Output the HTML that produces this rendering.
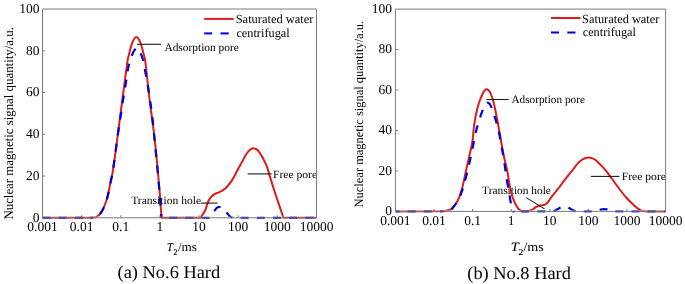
<!DOCTYPE html>
<html><head><meta charset="utf-8"><style>
html,body{margin:0;padding:0;background:#fff;width:685px;height:284px;overflow:hidden}
svg{display:block;will-change:transform}
text{font-family:'Liberation Serif',serif;fill:#000;text-rendering:geometricPrecision}
</style></head><body>
<svg width="685" height="284" viewBox="0 0 685 284">
<text x="39.5" y="221.60" text-anchor="end" font-size="13.5">0</text>
<line x1="42.5" y1="176.04" x2="45.0" y2="176.04" stroke="#7a7a7a" stroke-width="1"/>
<text x="39.5" y="179.84" text-anchor="end" font-size="13.5">20</text>
<line x1="42.5" y1="134.28" x2="45.0" y2="134.28" stroke="#7a7a7a" stroke-width="1"/>
<text x="39.5" y="138.08" text-anchor="end" font-size="13.5">40</text>
<line x1="42.5" y1="92.52" x2="45.0" y2="92.52" stroke="#7a7a7a" stroke-width="1"/>
<text x="39.5" y="96.32" text-anchor="end" font-size="13.5">60</text>
<line x1="42.5" y1="50.76" x2="45.0" y2="50.76" stroke="#7a7a7a" stroke-width="1"/>
<text x="39.5" y="54.56" text-anchor="end" font-size="13.5">80</text>
<text x="39.5" y="12.80" text-anchor="end" font-size="13.5">100</text>
<text x="42.50" y="231.10" text-anchor="middle" font-size="13.5">0.001</text>
<line x1="81.64" y1="217.8" x2="81.64" y2="215.3" stroke="#7a7a7a" stroke-width="1"/>
<text x="81.64" y="231.10" text-anchor="middle" font-size="13.5">0.01</text>
<line x1="120.79" y1="217.8" x2="120.79" y2="215.3" stroke="#7a7a7a" stroke-width="1"/>
<text x="120.79" y="231.10" text-anchor="middle" font-size="13.5">0.1</text>
<line x1="159.93" y1="217.8" x2="159.93" y2="215.3" stroke="#7a7a7a" stroke-width="1"/>
<text x="159.93" y="231.10" text-anchor="middle" font-size="13.5">1</text>
<line x1="199.07" y1="217.8" x2="199.07" y2="215.3" stroke="#7a7a7a" stroke-width="1"/>
<text x="199.07" y="231.10" text-anchor="middle" font-size="13.5">10</text>
<line x1="238.21" y1="217.8" x2="238.21" y2="215.3" stroke="#7a7a7a" stroke-width="1"/>
<text x="238.21" y="231.10" text-anchor="middle" font-size="13.5">100</text>
<line x1="277.36" y1="217.8" x2="277.36" y2="215.3" stroke="#7a7a7a" stroke-width="1"/>
<text x="277.36" y="231.10" text-anchor="middle" font-size="13.5">1000</text>
<text x="316.50" y="231.10" text-anchor="middle" font-size="13.5">10000</text>
<text x="391.9" y="215.20" text-anchor="end" font-size="13.5">0</text>
<line x1="395.4" y1="170.94" x2="397.9" y2="170.94" stroke="#7a7a7a" stroke-width="1"/>
<text x="391.9" y="174.74" text-anchor="end" font-size="13.5">20</text>
<line x1="395.4" y1="130.48" x2="397.9" y2="130.48" stroke="#7a7a7a" stroke-width="1"/>
<text x="391.9" y="134.28" text-anchor="end" font-size="13.5">40</text>
<line x1="395.4" y1="90.02" x2="397.9" y2="90.02" stroke="#7a7a7a" stroke-width="1"/>
<text x="391.9" y="93.82" text-anchor="end" font-size="13.5">60</text>
<line x1="395.4" y1="49.56" x2="397.9" y2="49.56" stroke="#7a7a7a" stroke-width="1"/>
<text x="391.9" y="53.36" text-anchor="end" font-size="13.5">80</text>
<text x="391.9" y="12.90" text-anchor="end" font-size="13.5">100</text>
<text x="395.40" y="225.10" text-anchor="middle" font-size="13.5">0.001</text>
<line x1="434.00" y1="211.4" x2="434.00" y2="208.9" stroke="#7a7a7a" stroke-width="1"/>
<text x="434.00" y="225.10" text-anchor="middle" font-size="13.5">0.01</text>
<line x1="472.60" y1="211.4" x2="472.60" y2="208.9" stroke="#7a7a7a" stroke-width="1"/>
<text x="472.60" y="225.10" text-anchor="middle" font-size="13.5">0.1</text>
<line x1="511.20" y1="211.4" x2="511.20" y2="208.9" stroke="#7a7a7a" stroke-width="1"/>
<text x="511.20" y="225.10" text-anchor="middle" font-size="13.5">1</text>
<line x1="549.80" y1="211.4" x2="549.80" y2="208.9" stroke="#7a7a7a" stroke-width="1"/>
<text x="549.80" y="225.10" text-anchor="middle" font-size="13.5">10</text>
<line x1="588.40" y1="211.4" x2="588.40" y2="208.9" stroke="#7a7a7a" stroke-width="1"/>
<text x="588.40" y="225.10" text-anchor="middle" font-size="13.5">100</text>
<line x1="627.00" y1="211.4" x2="627.00" y2="208.9" stroke="#7a7a7a" stroke-width="1"/>
<text x="627.00" y="225.10" text-anchor="middle" font-size="13.5">1000</text>
<text x="665.60" y="225.10" text-anchor="middle" font-size="13.5">10000</text>
<line x1="204.2" y1="18.9" x2="233.7" y2="18.9" stroke="#dc1c1c" stroke-width="2"/>
<line x1="204.2" y1="33.4" x2="212.2" y2="33.4" stroke="#0000d0" stroke-width="2"/>
<line x1="220.5" y1="33.4" x2="228.7" y2="33.4" stroke="#0000d0" stroke-width="2"/>
<line x1="551.0" y1="18.0" x2="580.5" y2="18.0" stroke="#dc1c1c" stroke-width="2"/>
<line x1="551.0" y1="32.5" x2="559.0" y2="32.5" stroke="#0000d0" stroke-width="2"/>
<line x1="567.3" y1="32.5" x2="575.5" y2="32.5" stroke="#0000d0" stroke-width="2"/>
<text x="235.69" y="23.00" font-size="12.3"  textLength="77.74" lengthAdjust="spacingAndGlyphs">Saturated water</text>
<text x="236.40" y="36.90" font-size="12.3"  textLength="53.27" lengthAdjust="spacingAndGlyphs">centrifugal</text>
<text x="164.40" y="51.10" font-size="11.25"  textLength="74.44" lengthAdjust="spacingAndGlyphs">Adsorption pore</text>
<text x="131.20" y="204.40" font-size="11.25"  textLength="69.93" lengthAdjust="spacingAndGlyphs">Transition hole</text>
<text x="272.97" y="178.20" font-size="11.25"  textLength="44.15" lengthAdjust="spacingAndGlyphs">Free pore</text>
<text x="117.58" y="278.40" font-size="18"  textLength="102.60" lengthAdjust="spacingAndGlyphs">(a) No.6 Hard</text>
<text x="582.09" y="22.50" font-size="12.3"  textLength="77.33" lengthAdjust="spacingAndGlyphs">Saturated water</text>
<text x="582.70" y="36.40" font-size="12.3"  textLength="53.27" lengthAdjust="spacingAndGlyphs">centrifugal</text>
<text x="511.40" y="102.70" font-size="11.25"  textLength="73.54" lengthAdjust="spacingAndGlyphs">Adsorption pore</text>
<text x="482.10" y="193.70" font-size="11.25"  textLength="68.83" lengthAdjust="spacingAndGlyphs">Transition hole</text>
<text x="621.66" y="179.60" font-size="11.25"  textLength="44.36" lengthAdjust="spacingAndGlyphs">Free pore</text>
<text x="467.28" y="278.50" font-size="18"  textLength="103.62" lengthAdjust="spacingAndGlyphs">(b) No.8 Hard</text>
<text x="166.90" y="251.00" font-size="12" font-style="italic" stroke="#000" stroke-width="0.15" textLength="5.94" lengthAdjust="spacingAndGlyphs">T</text>
<text x="173.60" y="254.50" font-size="8.7" stroke="#000" stroke-width="0.15" textLength="3.80" lengthAdjust="spacingAndGlyphs">2</text>
<text x="177.90" y="251.00" font-size="12.5"  textLength="19.07" lengthAdjust="spacingAndGlyphs">/ms</text>
<text x="510.69" y="250.70" font-size="13" font-style="italic" stroke="#000" stroke-width="0.15" textLength="8.06" lengthAdjust="spacingAndGlyphs">T</text>
<text x="518.40" y="255.00" font-size="9" stroke="#000" stroke-width="0.15" textLength="4.84" lengthAdjust="spacingAndGlyphs">2</text>
<text x="523.40" y="250.80" font-size="13"  textLength="20.38" lengthAdjust="spacingAndGlyphs">/ms</text>
<text transform="translate(12.70,219.59) rotate(-90)" font-size="13" textLength="192.46" lengthAdjust="spacingAndGlyphs">Nuclear magnetic signal quantity/a.u.</text>
<text transform="translate(363.30,207.39) rotate(-90)" font-size="12.6" textLength="186.48" lengthAdjust="spacingAndGlyphs">Nuclear magnetic signal quantity/a.u.</text>
<defs><clipPath id="k1m"><rect x="42.5" y="9.0" width="274.0" height="207.8"/></clipPath><clipPath id="k1b"><rect x="42.5" y="216.8" width="274.0" height="2.5"/></clipPath><clipPath id="k2m"><rect x="395.4" y="9.1" width="270.20000000000005" height="201.3"/></clipPath><clipPath id="k2b"><rect x="395.4" y="210.4" width="270.20000000000005" height="2.5"/></clipPath></defs>
<line x1="42.5" y1="217.8" x2="316.5" y2="217.8" stroke="#7a7a7a" stroke-width="1"/>
<line x1="395.4" y1="211.4" x2="665.6" y2="211.4" stroke="#7a7a7a" stroke-width="1"/>
<g clip-path="url(#k1m)"><path d="M42.50,217.80 L90.00,217.80 L90.00,217.80 C90.67,217.75 92.83,217.72 94.00,217.50 C95.17,217.28 95.90,217.23 97.00,216.50 C98.10,215.77 99.43,214.68 100.60,213.10 C101.77,211.52 102.83,209.78 104.00,207.00 C105.17,204.22 106.57,200.23 107.60,196.40 C108.63,192.57 109.30,188.40 110.20,184.00 C111.10,179.60 111.63,179.00 113.00,170.00 C114.37,161.00 116.85,141.67 118.40,130.00 C119.95,118.33 120.82,111.27 122.30,100.00 C123.78,88.73 126.18,69.98 127.30,62.40 C128.42,54.82 128.33,57.32 129.00,54.50 C129.67,51.68 130.55,47.93 131.30,45.50 C132.05,43.07 132.67,41.30 133.50,39.90 C134.33,38.50 135.35,37.10 136.30,37.10 C137.25,37.10 138.35,38.50 139.20,39.90 C140.05,41.30 140.65,43.07 141.40,45.50 C142.15,47.93 143.03,51.68 143.70,54.50 C144.37,57.32 144.42,54.82 145.40,62.40 C146.38,69.98 148.57,91.23 149.60,100.00 C150.63,108.77 150.93,110.00 151.60,115.00 C152.27,120.00 152.98,125.00 153.60,130.00 C154.22,135.00 154.77,140.00 155.30,145.00 C155.83,150.00 156.32,155.00 156.80,160.00 C157.28,165.00 157.75,170.00 158.20,175.00 C158.65,180.00 159.10,185.00 159.50,190.00 C159.90,195.00 160.25,200.37 160.60,205.00 C160.95,209.63 161.43,215.67 161.60,217.80 L200.20,217.80 L200.20,217.80 C200.57,217.33 201.58,216.22 202.40,215.00 C203.22,213.78 204.33,212.17 205.10,210.50 C205.87,208.83 206.47,206.53 207.00,205.00 C207.53,203.47 207.70,202.52 208.30,201.30 C208.90,200.08 209.75,198.77 210.60,197.70 C211.45,196.63 212.50,195.62 213.40,194.90 C214.30,194.18 215.20,193.78 216.00,193.40 C216.80,193.02 217.22,193.03 218.20,192.60 C219.18,192.17 220.67,191.52 221.90,190.80 C223.13,190.08 224.58,189.17 225.60,188.30 C226.62,187.43 227.08,186.72 228.00,185.60 C228.92,184.48 230.07,183.10 231.10,181.60 C232.13,180.10 233.17,178.45 234.20,176.60 C235.23,174.75 236.28,172.45 237.30,170.50 C238.32,168.55 239.35,166.62 240.30,164.90 C241.25,163.18 242.07,161.88 243.00,160.20 C243.93,158.52 244.92,156.35 245.90,154.80 C246.88,153.25 248.00,151.88 248.90,150.90 C249.80,149.92 250.40,149.32 251.30,148.90 C252.20,148.48 253.30,148.23 254.30,148.40 C255.30,148.57 256.40,149.17 257.30,149.90 C258.20,150.63 258.88,151.65 259.70,152.80 C260.52,153.95 261.37,155.32 262.20,156.80 C263.03,158.28 263.88,159.98 264.70,161.70 C265.52,163.42 265.98,163.82 267.10,167.10 C268.22,170.38 269.90,176.58 271.40,181.40 C272.90,186.22 274.10,189.93 276.10,196.00 C278.10,202.07 282.18,214.17 283.40,217.80 L316.50,217.80" fill="none" stroke="#dc1c1c" stroke-width="2" stroke-linejoin="round"/><path d="M42.50,217.80 L90.00,217.80" fill="none" stroke="#0000d0" stroke-width="2.2" stroke-linejoin="round" stroke-dasharray="8.0,8.2" stroke-dashoffset="0.00"/><path d="M90.00,217.80 C90.67,217.75 92.83,217.72 94.00,217.50 C95.17,217.28 95.90,217.23 97.00,216.50 C98.10,215.77 99.43,214.68 100.60,213.10 C101.77,211.52 102.83,209.78 104.00,207.00 C105.17,204.22 106.57,200.23 107.60,196.40 C108.63,192.57 109.30,188.40 110.20,184.00 C111.10,179.60 111.62,179.00 113.00,170.00 C114.38,161.00 117.20,139.17 118.50,130.00 C119.80,120.83 120.05,120.00 120.80,115.00 C121.55,110.00 122.33,104.17 123.00,100.00 C123.67,95.83 124.25,93.33 124.80,90.00 C125.35,86.67 125.80,83.33 126.30,80.00 C126.80,76.67 127.28,72.83 127.80,70.00 C128.32,67.17 128.72,65.42 129.40,63.00 C130.08,60.58 131.20,57.42 131.90,55.50 C132.60,53.58 133.02,52.55 133.60,51.50 C134.18,50.45 134.78,49.73 135.40,49.20 C136.02,48.67 136.70,48.23 137.30,48.30 C137.90,48.37 138.48,48.87 139.00,49.60 C139.52,50.33 139.82,51.25 140.40,52.70 C140.98,54.15 141.92,56.42 142.50,58.30 C143.08,60.18 143.48,62.00 143.90,64.00 C144.32,66.00 144.57,67.97 145.00,70.30 C145.43,72.63 145.97,75.05 146.50,78.00 C147.03,80.95 147.62,84.33 148.20,88.00 C148.78,91.67 149.42,96.00 150.00,100.00 C150.58,104.00 151.15,107.50 151.70,112.00 C152.25,116.50 152.82,122.33 153.30,127.00 C153.78,131.67 154.05,134.50 154.60,140.00 C155.15,145.50 155.82,151.67 156.60,160.00 C157.38,168.33 158.65,182.50 159.30,190.00 C159.95,197.50 160.15,200.37 160.50,205.00 C160.85,209.63 161.25,215.67 161.40,217.80" fill="none" stroke="#0000d0" stroke-width="2.2" stroke-linejoin="round" stroke-dasharray="8.0,8.2" stroke-dashoffset="5.15"/><path d="M161.40,217.80 L209.00,217.80 L209.00,217.80 C209.42,217.50 210.62,217.12 211.50,216.00 C212.38,214.88 213.38,212.50 214.30,211.10 C215.22,209.70 216.05,208.28 217.00,207.60 C217.95,206.92 219.08,206.93 220.00,207.00 C220.92,207.07 221.67,207.42 222.50,208.00 C223.33,208.58 224.18,209.57 225.00,210.50 C225.82,211.43 226.57,212.60 227.40,213.60 C228.23,214.60 229.15,215.80 230.00,216.50 C230.85,217.20 232.08,217.58 232.50,217.80 L316.50,217.80" fill="none" stroke="#0000d0" stroke-width="2.2" stroke-linejoin="round" stroke-dasharray="8.0,8.2" stroke-dashoffset="8.44"/></g>
<g clip-path="url(#k1b)"><path d="M42.50,217.80 L90.00,217.80 L90.00,217.80 C90.67,217.75 92.83,217.72 94.00,217.50 C95.17,217.28 95.90,217.23 97.00,216.50 C98.10,215.77 99.43,214.68 100.60,213.10 C101.77,211.52 102.83,209.78 104.00,207.00 C105.17,204.22 106.57,200.23 107.60,196.40 C108.63,192.57 109.30,188.40 110.20,184.00 C111.10,179.60 111.63,179.00 113.00,170.00 C114.37,161.00 116.85,141.67 118.40,130.00 C119.95,118.33 120.82,111.27 122.30,100.00 C123.78,88.73 126.18,69.98 127.30,62.40 C128.42,54.82 128.33,57.32 129.00,54.50 C129.67,51.68 130.55,47.93 131.30,45.50 C132.05,43.07 132.67,41.30 133.50,39.90 C134.33,38.50 135.35,37.10 136.30,37.10 C137.25,37.10 138.35,38.50 139.20,39.90 C140.05,41.30 140.65,43.07 141.40,45.50 C142.15,47.93 143.03,51.68 143.70,54.50 C144.37,57.32 144.42,54.82 145.40,62.40 C146.38,69.98 148.57,91.23 149.60,100.00 C150.63,108.77 150.93,110.00 151.60,115.00 C152.27,120.00 152.98,125.00 153.60,130.00 C154.22,135.00 154.77,140.00 155.30,145.00 C155.83,150.00 156.32,155.00 156.80,160.00 C157.28,165.00 157.75,170.00 158.20,175.00 C158.65,180.00 159.10,185.00 159.50,190.00 C159.90,195.00 160.25,200.37 160.60,205.00 C160.95,209.63 161.43,215.67 161.60,217.80 L200.20,217.80 L200.20,217.80 C200.57,217.33 201.58,216.22 202.40,215.00 C203.22,213.78 204.33,212.17 205.10,210.50 C205.87,208.83 206.47,206.53 207.00,205.00 C207.53,203.47 207.70,202.52 208.30,201.30 C208.90,200.08 209.75,198.77 210.60,197.70 C211.45,196.63 212.50,195.62 213.40,194.90 C214.30,194.18 215.20,193.78 216.00,193.40 C216.80,193.02 217.22,193.03 218.20,192.60 C219.18,192.17 220.67,191.52 221.90,190.80 C223.13,190.08 224.58,189.17 225.60,188.30 C226.62,187.43 227.08,186.72 228.00,185.60 C228.92,184.48 230.07,183.10 231.10,181.60 C232.13,180.10 233.17,178.45 234.20,176.60 C235.23,174.75 236.28,172.45 237.30,170.50 C238.32,168.55 239.35,166.62 240.30,164.90 C241.25,163.18 242.07,161.88 243.00,160.20 C243.93,158.52 244.92,156.35 245.90,154.80 C246.88,153.25 248.00,151.88 248.90,150.90 C249.80,149.92 250.40,149.32 251.30,148.90 C252.20,148.48 253.30,148.23 254.30,148.40 C255.30,148.57 256.40,149.17 257.30,149.90 C258.20,150.63 258.88,151.65 259.70,152.80 C260.52,153.95 261.37,155.32 262.20,156.80 C263.03,158.28 263.88,159.98 264.70,161.70 C265.52,163.42 265.98,163.82 267.10,167.10 C268.22,170.38 269.90,176.58 271.40,181.40 C272.90,186.22 274.10,189.93 276.10,196.00 C278.10,202.07 282.18,214.17 283.40,217.80 L316.50,217.80" fill="none" stroke="#b85a55" stroke-width="2" stroke-linejoin="round"/><path d="M42.50,217.80 L90.00,217.80" fill="none" stroke="#4a50a8" stroke-width="2.2" stroke-linejoin="round" stroke-dasharray="8.0,8.2" stroke-dashoffset="0.00"/><path d="M90.00,217.80 C90.67,217.75 92.83,217.72 94.00,217.50 C95.17,217.28 95.90,217.23 97.00,216.50 C98.10,215.77 99.43,214.68 100.60,213.10 C101.77,211.52 102.83,209.78 104.00,207.00 C105.17,204.22 106.57,200.23 107.60,196.40 C108.63,192.57 109.30,188.40 110.20,184.00 C111.10,179.60 111.62,179.00 113.00,170.00 C114.38,161.00 117.20,139.17 118.50,130.00 C119.80,120.83 120.05,120.00 120.80,115.00 C121.55,110.00 122.33,104.17 123.00,100.00 C123.67,95.83 124.25,93.33 124.80,90.00 C125.35,86.67 125.80,83.33 126.30,80.00 C126.80,76.67 127.28,72.83 127.80,70.00 C128.32,67.17 128.72,65.42 129.40,63.00 C130.08,60.58 131.20,57.42 131.90,55.50 C132.60,53.58 133.02,52.55 133.60,51.50 C134.18,50.45 134.78,49.73 135.40,49.20 C136.02,48.67 136.70,48.23 137.30,48.30 C137.90,48.37 138.48,48.87 139.00,49.60 C139.52,50.33 139.82,51.25 140.40,52.70 C140.98,54.15 141.92,56.42 142.50,58.30 C143.08,60.18 143.48,62.00 143.90,64.00 C144.32,66.00 144.57,67.97 145.00,70.30 C145.43,72.63 145.97,75.05 146.50,78.00 C147.03,80.95 147.62,84.33 148.20,88.00 C148.78,91.67 149.42,96.00 150.00,100.00 C150.58,104.00 151.15,107.50 151.70,112.00 C152.25,116.50 152.82,122.33 153.30,127.00 C153.78,131.67 154.05,134.50 154.60,140.00 C155.15,145.50 155.82,151.67 156.60,160.00 C157.38,168.33 158.65,182.50 159.30,190.00 C159.95,197.50 160.15,200.37 160.50,205.00 C160.85,209.63 161.25,215.67 161.40,217.80" fill="none" stroke="#4a50a8" stroke-width="2.2" stroke-linejoin="round" stroke-dasharray="8.0,8.2" stroke-dashoffset="5.15"/><path d="M161.40,217.80 L209.00,217.80 L209.00,217.80 C209.42,217.50 210.62,217.12 211.50,216.00 C212.38,214.88 213.38,212.50 214.30,211.10 C215.22,209.70 216.05,208.28 217.00,207.60 C217.95,206.92 219.08,206.93 220.00,207.00 C220.92,207.07 221.67,207.42 222.50,208.00 C223.33,208.58 224.18,209.57 225.00,210.50 C225.82,211.43 226.57,212.60 227.40,213.60 C228.23,214.60 229.15,215.80 230.00,216.50 C230.85,217.20 232.08,217.58 232.50,217.80 L316.50,217.80" fill="none" stroke="#4a50a8" stroke-width="2.2" stroke-linejoin="round" stroke-dasharray="8.0,8.2" stroke-dashoffset="8.44"/></g>
<g clip-path="url(#k2m)"><path d="M395.40,211.40 L440.00,211.20 L440.00,211.20 C440.83,211.15 443.23,211.22 445.00,210.90 C446.77,210.58 449.18,209.98 450.60,209.30 C452.02,208.62 452.63,207.68 453.50,206.80 C454.37,205.92 454.80,205.70 455.80,204.00 C456.80,202.30 458.35,199.60 459.50,196.60 C460.65,193.60 461.70,189.93 462.70,186.00 C463.70,182.07 464.55,177.35 465.50,173.00 C466.45,168.65 467.27,165.07 468.40,159.90 C469.53,154.73 471.40,147.32 472.30,142.00 C473.20,136.68 473.30,132.00 473.80,128.00 C474.30,124.00 474.80,120.83 475.30,118.00 C475.80,115.17 476.30,113.17 476.80,111.00 C477.30,108.83 477.80,106.75 478.30,105.00 C478.80,103.25 479.27,101.92 479.80,100.50 C480.33,99.08 480.93,97.78 481.50,96.50 C482.07,95.22 482.63,93.83 483.20,92.80 C483.77,91.77 484.32,90.88 484.90,90.30 C485.48,89.72 486.10,89.32 486.70,89.30 C487.30,89.28 487.92,89.67 488.50,90.20 C489.08,90.73 489.62,91.37 490.20,92.50 C490.78,93.63 491.45,95.42 492.00,97.00 C492.55,98.58 493.03,100.25 493.50,102.00 C493.97,103.75 494.38,105.58 494.80,107.50 C495.22,109.42 495.58,111.42 496.00,113.50 C496.42,115.58 496.87,117.75 497.30,120.00 C497.73,122.25 498.17,124.58 498.60,127.00 C499.03,129.42 499.47,132.00 499.90,134.50 C500.33,137.00 500.70,139.25 501.20,142.00 C501.70,144.75 502.32,148.00 502.90,151.00 C503.48,154.00 504.00,156.83 504.70,160.00 C505.40,163.17 506.43,166.75 507.10,170.00 C507.77,173.25 508.03,175.80 508.70,179.50 C509.37,183.20 510.17,188.50 511.10,192.20 C512.03,195.90 513.12,198.97 514.30,201.70 C515.48,204.43 516.85,207.02 518.20,208.60 C519.55,210.18 520.70,210.77 522.40,211.20 C524.10,211.63 526.67,211.52 528.40,211.20 C530.13,210.88 531.52,210.00 532.80,209.30 C534.08,208.60 534.90,207.63 536.10,207.00 C537.30,206.37 538.60,205.87 540.00,205.50 C541.40,205.13 543.33,205.17 544.50,204.80 C545.67,204.43 546.25,204.00 547.00,203.30 C547.75,202.60 548.33,201.55 549.00,200.60 C549.67,199.65 550.08,198.83 551.00,197.60 C551.92,196.37 553.32,194.68 554.50,193.20 C555.68,191.72 556.87,190.28 558.10,188.70 C559.33,187.12 560.63,185.38 561.90,183.70 C563.17,182.02 564.43,180.25 565.70,178.60 C566.97,176.95 568.23,175.38 569.50,173.80 C570.77,172.22 572.05,170.68 573.30,169.10 C574.55,167.52 575.88,165.60 577.00,164.30 C578.12,163.00 579.05,162.12 580.00,161.30 C580.95,160.48 581.70,159.95 582.70,159.40 C583.70,158.85 584.95,158.30 586.00,158.00 C587.05,157.70 587.92,157.53 589.00,157.60 C590.08,157.67 591.42,158.00 592.50,158.40 C593.58,158.80 594.55,159.30 595.50,160.00 C596.45,160.70 597.45,161.90 598.20,162.60 C598.95,163.30 598.75,162.90 600.00,164.20 C601.25,165.50 603.80,168.10 605.70,170.40 C607.60,172.70 609.18,174.98 611.40,178.00 C613.62,181.02 616.47,185.17 619.00,188.50 C621.53,191.83 624.07,195.17 626.60,198.00 C629.13,200.83 632.30,203.73 634.20,205.50 C636.10,207.27 636.83,207.75 638.00,208.60 C639.17,209.45 640.12,210.15 641.20,210.60 C642.28,211.05 643.53,211.17 644.50,211.30 C645.47,211.43 646.58,211.38 647.00,211.40 L665.60,211.40" fill="none" stroke="#dc1c1c" stroke-width="2" stroke-linejoin="round"/><path d="M395.40,211.40 L440.00,211.30" fill="none" stroke="#0000d0" stroke-width="2.2" stroke-linejoin="round" stroke-dasharray="8.0,8.2" stroke-dashoffset="4.00"/><path d="M440.00,211.30 C440.83,211.27 443.28,211.28 445.00,211.10 C446.72,210.92 448.97,210.78 450.30,210.20 C451.63,209.62 452.07,208.72 453.00,207.60 C453.93,206.48 455.07,204.77 455.90,203.50 C456.73,202.23 457.32,201.20 458.00,200.00 C458.68,198.80 459.33,197.80 460.00,196.30 C460.67,194.80 461.40,192.70 462.00,191.00 C462.60,189.30 463.00,188.18 463.60,186.10 C464.20,184.02 464.83,181.43 465.60,178.50 C466.37,175.57 467.28,172.42 468.20,168.50 C469.12,164.58 470.15,159.50 471.10,155.00 C472.05,150.50 473.03,145.63 473.90,141.50 C474.77,137.37 475.55,133.25 476.30,130.20 C477.05,127.15 477.70,125.55 478.40,123.20 C479.10,120.85 479.73,118.38 480.50,116.10 C481.27,113.82 482.20,111.43 483.00,109.50 C483.80,107.57 484.55,105.65 485.30,104.50 C486.05,103.35 486.80,102.72 487.50,102.60 C488.20,102.48 488.88,103.10 489.50,103.80 C490.12,104.50 490.47,104.98 491.20,106.80 C491.93,108.62 493.10,112.33 493.90,114.70 C494.70,117.07 495.30,118.65 496.00,121.00 C496.70,123.35 497.48,126.30 498.10,128.80 C498.72,131.30 499.18,133.30 499.70,136.00 C500.22,138.70 500.72,142.33 501.20,145.00 C501.68,147.67 502.17,149.50 502.60,152.00 C503.03,154.50 503.40,157.50 503.80,160.00 C504.20,162.50 504.58,164.17 505.00,167.00 C505.42,169.83 505.72,173.33 506.30,177.00 C506.88,180.67 507.92,185.67 508.50,189.00 C509.08,192.33 509.35,194.33 509.80,197.00 C510.25,199.67 510.70,202.63 511.20,205.00 C511.70,207.37 512.25,210.13 512.80,211.20 C513.35,212.27 514.22,211.37 514.50,211.40" fill="none" stroke="#0000d0" stroke-width="2.2" stroke-linejoin="round" stroke-dasharray="8.0,8.2" stroke-dashoffset="4.48"/><path d="M514.50,211.40 L550.00,211.40 L550.00,211.40 C550.57,211.37 552.23,211.52 553.40,211.20 C554.57,210.88 555.73,210.15 557.00,209.50 C558.27,208.85 559.67,207.78 561.00,207.30 C562.33,206.82 563.63,206.47 565.00,206.60 C566.37,206.73 567.95,207.53 569.20,208.10 C570.45,208.67 571.43,209.48 572.50,210.00 C573.57,210.52 574.68,210.97 575.60,211.20 C576.52,211.43 577.60,211.37 578.00,211.40 L597.00,211.40 L597.00,211.40 C597.62,211.10 599.53,209.97 600.70,209.60 C601.87,209.23 602.83,209.20 604.00,209.20 C605.17,209.20 606.53,209.23 607.70,209.60 C608.87,209.97 610.45,211.10 611.00,211.40 L665.60,211.40" fill="none" stroke="#0000d0" stroke-width="2.2" stroke-linejoin="round" stroke-dasharray="8.0,8.2" stroke-dashoffset="9.68"/></g>
<g clip-path="url(#k2b)"><path d="M395.40,211.40 L440.00,211.20 L440.00,211.20 C440.83,211.15 443.23,211.22 445.00,210.90 C446.77,210.58 449.18,209.98 450.60,209.30 C452.02,208.62 452.63,207.68 453.50,206.80 C454.37,205.92 454.80,205.70 455.80,204.00 C456.80,202.30 458.35,199.60 459.50,196.60 C460.65,193.60 461.70,189.93 462.70,186.00 C463.70,182.07 464.55,177.35 465.50,173.00 C466.45,168.65 467.27,165.07 468.40,159.90 C469.53,154.73 471.40,147.32 472.30,142.00 C473.20,136.68 473.30,132.00 473.80,128.00 C474.30,124.00 474.80,120.83 475.30,118.00 C475.80,115.17 476.30,113.17 476.80,111.00 C477.30,108.83 477.80,106.75 478.30,105.00 C478.80,103.25 479.27,101.92 479.80,100.50 C480.33,99.08 480.93,97.78 481.50,96.50 C482.07,95.22 482.63,93.83 483.20,92.80 C483.77,91.77 484.32,90.88 484.90,90.30 C485.48,89.72 486.10,89.32 486.70,89.30 C487.30,89.28 487.92,89.67 488.50,90.20 C489.08,90.73 489.62,91.37 490.20,92.50 C490.78,93.63 491.45,95.42 492.00,97.00 C492.55,98.58 493.03,100.25 493.50,102.00 C493.97,103.75 494.38,105.58 494.80,107.50 C495.22,109.42 495.58,111.42 496.00,113.50 C496.42,115.58 496.87,117.75 497.30,120.00 C497.73,122.25 498.17,124.58 498.60,127.00 C499.03,129.42 499.47,132.00 499.90,134.50 C500.33,137.00 500.70,139.25 501.20,142.00 C501.70,144.75 502.32,148.00 502.90,151.00 C503.48,154.00 504.00,156.83 504.70,160.00 C505.40,163.17 506.43,166.75 507.10,170.00 C507.77,173.25 508.03,175.80 508.70,179.50 C509.37,183.20 510.17,188.50 511.10,192.20 C512.03,195.90 513.12,198.97 514.30,201.70 C515.48,204.43 516.85,207.02 518.20,208.60 C519.55,210.18 520.70,210.77 522.40,211.20 C524.10,211.63 526.67,211.52 528.40,211.20 C530.13,210.88 531.52,210.00 532.80,209.30 C534.08,208.60 534.90,207.63 536.10,207.00 C537.30,206.37 538.60,205.87 540.00,205.50 C541.40,205.13 543.33,205.17 544.50,204.80 C545.67,204.43 546.25,204.00 547.00,203.30 C547.75,202.60 548.33,201.55 549.00,200.60 C549.67,199.65 550.08,198.83 551.00,197.60 C551.92,196.37 553.32,194.68 554.50,193.20 C555.68,191.72 556.87,190.28 558.10,188.70 C559.33,187.12 560.63,185.38 561.90,183.70 C563.17,182.02 564.43,180.25 565.70,178.60 C566.97,176.95 568.23,175.38 569.50,173.80 C570.77,172.22 572.05,170.68 573.30,169.10 C574.55,167.52 575.88,165.60 577.00,164.30 C578.12,163.00 579.05,162.12 580.00,161.30 C580.95,160.48 581.70,159.95 582.70,159.40 C583.70,158.85 584.95,158.30 586.00,158.00 C587.05,157.70 587.92,157.53 589.00,157.60 C590.08,157.67 591.42,158.00 592.50,158.40 C593.58,158.80 594.55,159.30 595.50,160.00 C596.45,160.70 597.45,161.90 598.20,162.60 C598.95,163.30 598.75,162.90 600.00,164.20 C601.25,165.50 603.80,168.10 605.70,170.40 C607.60,172.70 609.18,174.98 611.40,178.00 C613.62,181.02 616.47,185.17 619.00,188.50 C621.53,191.83 624.07,195.17 626.60,198.00 C629.13,200.83 632.30,203.73 634.20,205.50 C636.10,207.27 636.83,207.75 638.00,208.60 C639.17,209.45 640.12,210.15 641.20,210.60 C642.28,211.05 643.53,211.17 644.50,211.30 C645.47,211.43 646.58,211.38 647.00,211.40 L665.60,211.40" fill="none" stroke="#b85a55" stroke-width="2" stroke-linejoin="round"/><path d="M395.40,211.40 L440.00,211.30" fill="none" stroke="#4a50a8" stroke-width="2.2" stroke-linejoin="round" stroke-dasharray="8.0,8.2" stroke-dashoffset="4.00"/><path d="M440.00,211.30 C440.83,211.27 443.28,211.28 445.00,211.10 C446.72,210.92 448.97,210.78 450.30,210.20 C451.63,209.62 452.07,208.72 453.00,207.60 C453.93,206.48 455.07,204.77 455.90,203.50 C456.73,202.23 457.32,201.20 458.00,200.00 C458.68,198.80 459.33,197.80 460.00,196.30 C460.67,194.80 461.40,192.70 462.00,191.00 C462.60,189.30 463.00,188.18 463.60,186.10 C464.20,184.02 464.83,181.43 465.60,178.50 C466.37,175.57 467.28,172.42 468.20,168.50 C469.12,164.58 470.15,159.50 471.10,155.00 C472.05,150.50 473.03,145.63 473.90,141.50 C474.77,137.37 475.55,133.25 476.30,130.20 C477.05,127.15 477.70,125.55 478.40,123.20 C479.10,120.85 479.73,118.38 480.50,116.10 C481.27,113.82 482.20,111.43 483.00,109.50 C483.80,107.57 484.55,105.65 485.30,104.50 C486.05,103.35 486.80,102.72 487.50,102.60 C488.20,102.48 488.88,103.10 489.50,103.80 C490.12,104.50 490.47,104.98 491.20,106.80 C491.93,108.62 493.10,112.33 493.90,114.70 C494.70,117.07 495.30,118.65 496.00,121.00 C496.70,123.35 497.48,126.30 498.10,128.80 C498.72,131.30 499.18,133.30 499.70,136.00 C500.22,138.70 500.72,142.33 501.20,145.00 C501.68,147.67 502.17,149.50 502.60,152.00 C503.03,154.50 503.40,157.50 503.80,160.00 C504.20,162.50 504.58,164.17 505.00,167.00 C505.42,169.83 505.72,173.33 506.30,177.00 C506.88,180.67 507.92,185.67 508.50,189.00 C509.08,192.33 509.35,194.33 509.80,197.00 C510.25,199.67 510.70,202.63 511.20,205.00 C511.70,207.37 512.25,210.13 512.80,211.20 C513.35,212.27 514.22,211.37 514.50,211.40" fill="none" stroke="#4a50a8" stroke-width="2.2" stroke-linejoin="round" stroke-dasharray="8.0,8.2" stroke-dashoffset="4.48"/><path d="M514.50,211.40 L550.00,211.40 L550.00,211.40 C550.57,211.37 552.23,211.52 553.40,211.20 C554.57,210.88 555.73,210.15 557.00,209.50 C558.27,208.85 559.67,207.78 561.00,207.30 C562.33,206.82 563.63,206.47 565.00,206.60 C566.37,206.73 567.95,207.53 569.20,208.10 C570.45,208.67 571.43,209.48 572.50,210.00 C573.57,210.52 574.68,210.97 575.60,211.20 C576.52,211.43 577.60,211.37 578.00,211.40 L597.00,211.40 L597.00,211.40 C597.62,211.10 599.53,209.97 600.70,209.60 C601.87,209.23 602.83,209.20 604.00,209.20 C605.17,209.20 606.53,209.23 607.70,209.60 C608.87,209.97 610.45,211.10 611.00,211.40 L665.60,211.40" fill="none" stroke="#4a50a8" stroke-width="2.2" stroke-linejoin="round" stroke-dasharray="8.0,8.2" stroke-dashoffset="9.68"/></g>
<line x1="137.0" y1="44.3" x2="161.0" y2="44.3" stroke="#1a1a1a" stroke-width="1.1"/>
<line x1="200.8" y1="203.1" x2="217.6" y2="203.1" stroke="#1a1a1a" stroke-width="1.1"/>
<line x1="247.6" y1="173.9" x2="271.6" y2="173.9" stroke="#1a1a1a" stroke-width="1.1"/>
<line x1="486.4" y1="99.5" x2="508.6" y2="99.5" stroke="#1a1a1a" stroke-width="1.1"/>
<line x1="526.2" y1="197.6" x2="544.5" y2="208.9" stroke="#1a1a1a" stroke-width="1.1"/>
<line x1="590.9" y1="176.4" x2="619.4" y2="176.4" stroke="#1a1a1a" stroke-width="1.1"/>
<path d="M42.5,218.3 V9.0 H316.5 V218.3" fill="none" stroke="#7a7a7a" stroke-width="1"/>
<path d="M395.4,211.9 V9.1 H665.6 V211.9" fill="none" stroke="#7a7a7a" stroke-width="1"/>
</svg>
</body></html>
